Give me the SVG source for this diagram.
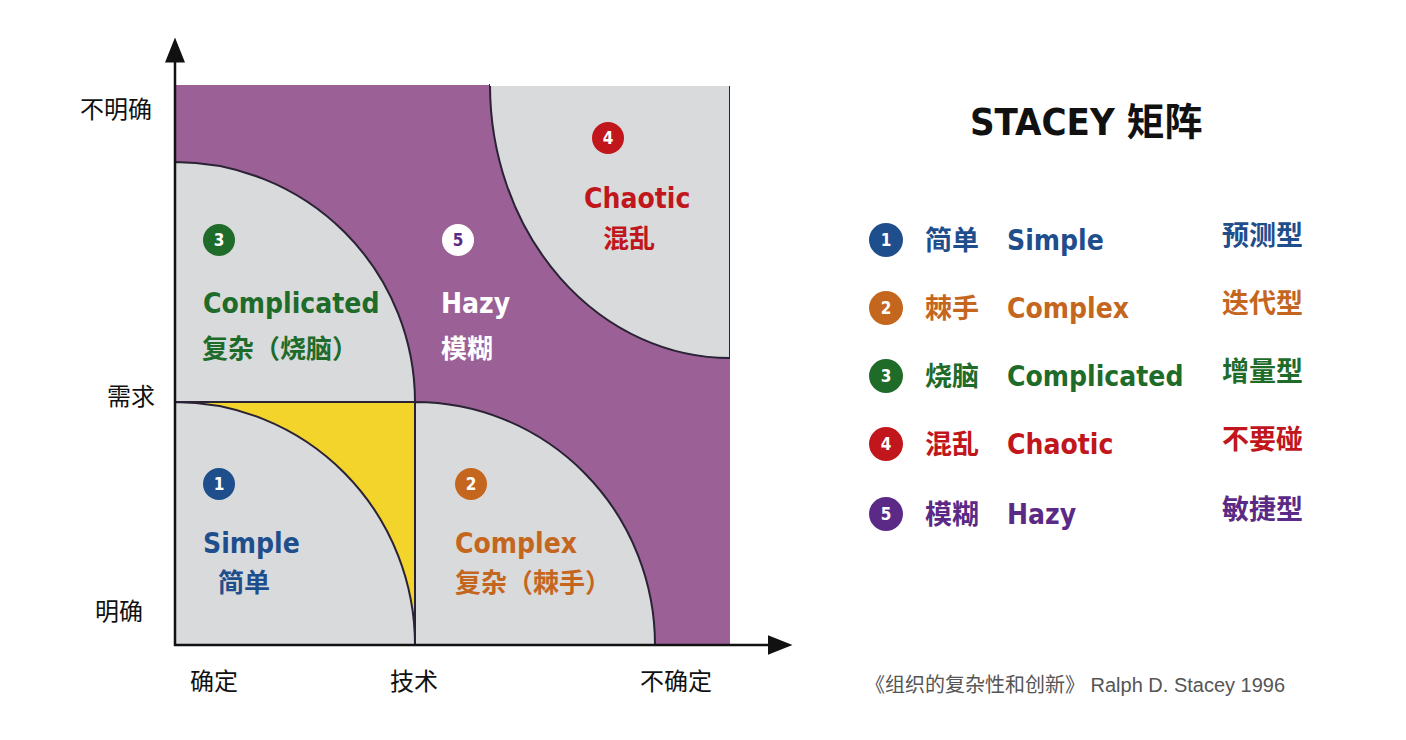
<svg xmlns="http://www.w3.org/2000/svg" width="1406" height="740" viewBox="0 0 1406 740">
<style>
.en{font-family:"DejaVu Sans Condensed","DejaVu Sans","Noto Sans CJK SC",sans-serif;font-weight:bold}
.cn{font-family:"Noto Sans CJK SC",sans-serif;font-weight:bold}
.ax{font-family:"Noto Sans CJK SC",sans-serif;font-size:24px;fill:#111}
.num{font-family:"DejaVu Sans Condensed","DejaVu Sans",sans-serif;font-weight:bold;font-size:17px;fill:#fff;text-anchor:middle}
.arc{stroke:#2a2235;stroke-width:2;fill:#d9dadc}
.b{fill:#1f4e8c}.o{fill:#c5661f}.g{fill:#1e6b2a}.r{fill:#c0161c}.p{fill:#5b2a86}.w{fill:#fff}
</style>
<defs><marker id="ah" markerWidth="10" markerHeight="10" refX="5" refY="5" orient="auto"><path d="M0,1 L10,5 L0,9 Z" fill="#111"/></marker></defs>
<rect width="1406" height="740" fill="#fff"/>
<g id="matrix">
<rect x="175" y="85" width="555" height="560" fill="#9b6196"/>
<rect x="175" y="402" width="240" height="243" fill="#f2d42a"/>
<path class="arc" d="M175,162 A240,240 0 0 1 415,402 L175,402 Z"/>
<path class="arc" d="M175,402 A240,243 0 0 1 415,645 L175,645 Z"/>
<path class="arc" d="M415,402 A240,243 0 0 1 655,645 L415,645 Z"/>
<path class="arc" d="M490,85 A240,273 0 0 0 730,358 L730,85 Z"/>
<path d="M175,402 H415 V645" fill="none" stroke="#2a2235" stroke-width="2"/>
<rect x="490" y="83" width="242" height="3" fill="#fff"/><rect x="730" y="85" width="3" height="275" fill="#fff"/>
</g>
<g id="connectors">
<line x1="175" y1="646" x2="175" y2="50" stroke="#111" stroke-width="2.5" marker-end="url(#ah)"/>
<line x1="174" y1="645" x2="780" y2="645" stroke="#111" stroke-width="2.5" marker-end="url(#ah)"/>
</g>
<g id="axis-labels">
<text class="ax" x="80" y="118">不明确</text>
<text class="ax" x="107" y="405">需求</text>
<text class="ax" x="95" y="620">明确</text>
<text class="ax" x="190" y="690">确定</text>
<text class="ax" x="390" y="690">技术</text>
<text class="ax" x="640" y="690">不确定</text>
</g>
<g id="q3"><circle cx="219" cy="240" r="16" class="g"/><text class="num" x="219" y="246">3</text>
<text class="en g" x="203" y="313" font-size="28">Complicated</text><text class="cn g" x="202" y="358" font-size="26">复杂（烧脑）</text></g>
<g id="q5"><circle cx="458" cy="240" r="16" class="w"/><text class="num p" x="458" y="246">5</text>
<text class="en w" x="441" y="313" font-size="28">Hazy</text><text class="cn w" x="441" y="358" font-size="26">模糊</text></g>
<g id="q4"><circle cx="608" cy="138" r="16" class="r"/><text class="num" x="608" y="144">4</text>
<text class="en r" x="584" y="208" font-size="28">Chaotic</text><text class="cn r" x="603" y="248" font-size="26">混乱</text></g>
<g id="q1"><circle cx="219" cy="484" r="16" class="b"/><text class="num" x="219" y="490">1</text>
<text class="en b" x="203" y="553" font-size="28">Simple</text><text class="cn b" x="218" y="592" font-size="26">简单</text></g>
<g id="q2"><circle cx="471" cy="484" r="16" class="o"/><text class="num" x="471" y="490">2</text>
<text class="en o" x="455" y="553" font-size="28">Complex</text><text class="cn o" x="455" y="592" font-size="26">复杂（棘手）</text></g>
<g id="title"><text class="en" x="970" y="135" font-size="38" fill="#111">STACEY <tspan class="cn">矩阵</tspan></text></g>
<g id="legend">
<circle cx="886" cy="240" r="17" class="b"/><text class="num" x="886" y="246">1</text>
<text class="cn b" x="925" y="250" font-size="27">简单</text><text class="en b" x="1007" y="250" font-size="28">Simple</text><text class="cn b" x="1222" y="245" font-size="27">预测型</text>
<circle cx="886" cy="308" r="17" class="o"/><text class="num" x="886" y="314">2</text>
<text class="cn o" x="925" y="318" font-size="27">棘手</text><text class="en o" x="1007" y="318" font-size="28">Complex</text><text class="cn o" x="1222" y="313" font-size="27">迭代型</text>
<circle cx="886" cy="376" r="17" class="g"/><text class="num" x="886" y="382">3</text>
<text class="cn g" x="925" y="386" font-size="27">烧脑</text><text class="en g" x="1007" y="386" font-size="28">Complicated</text><text class="cn g" x="1222" y="381" font-size="27">增量型</text>
<circle cx="886" cy="444" r="17" class="r"/><text class="num" x="886" y="450">4</text>
<text class="cn r" x="925" y="454" font-size="27">混乱</text><text class="en r" x="1007" y="454" font-size="28">Chaotic</text><text class="cn r" x="1222" y="449" font-size="27">不要碰</text>
<circle cx="886" cy="514" r="17" class="p"/><text class="num" x="886" y="520">5</text>
<text class="cn p" x="925" y="524" font-size="27">模糊</text><text class="en p" x="1007" y="524" font-size="28">Hazy</text><text class="cn p" x="1222" y="519" font-size="27">敏捷型</text>
</g>
<g id="footer"><text x="865" y="692" font-size="20" fill="#555" font-family="'Liberation Sans','Noto Sans CJK SC',sans-serif">《组织的复杂性和创新》 Ralph D. Stacey   1996</text></g>
</svg>
